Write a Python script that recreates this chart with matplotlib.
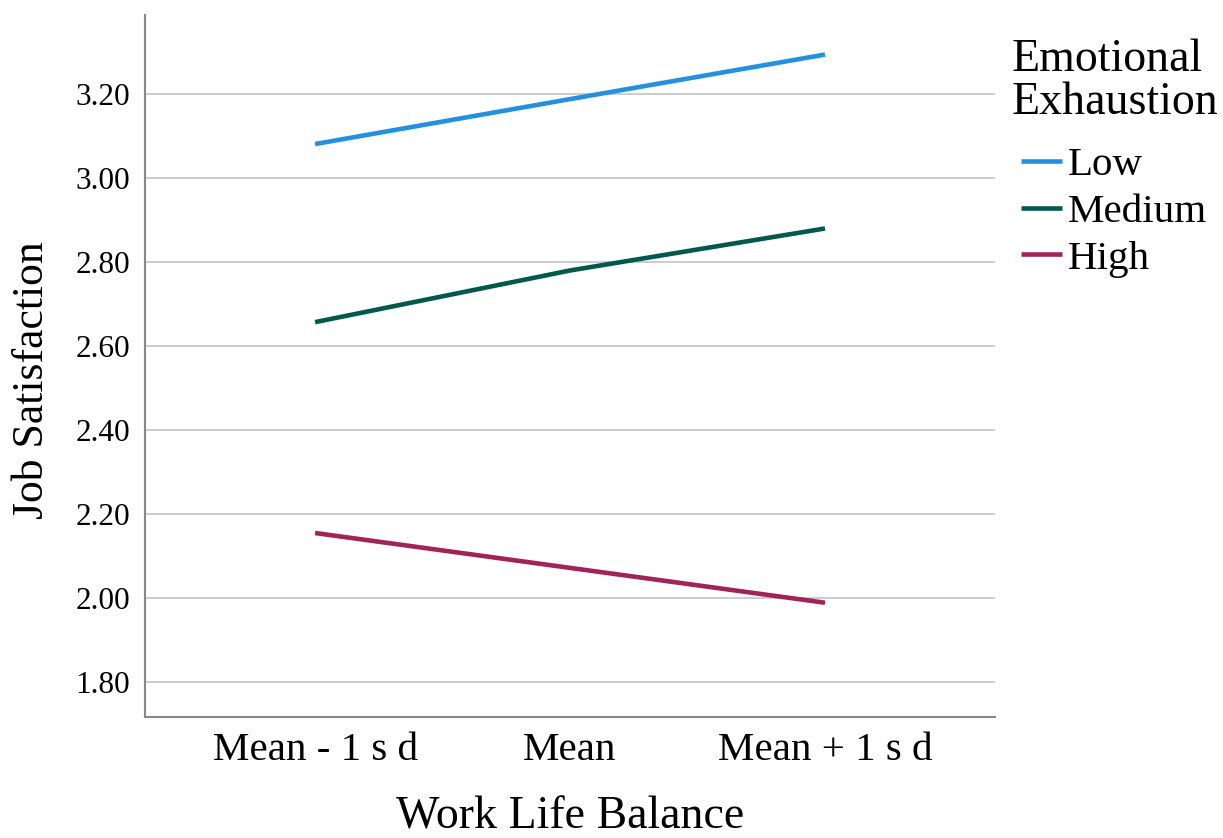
"""
Interaction plot: job satisfaction by work life balance and emotional exhaustion
"""

import matplotlib
matplotlib.use('Agg')
import matplotlib.pyplot as plt

# dados
categories = ['Mean - 1 s d', 'Mean', 'Mean + 1 s d']
low = [3.081, 3.188, 3.294]
medium = [2.657, 2.780, 2.880]
high = [2.155, 2.072, 1.989]
series_names = ['Low', 'Medium', 'High']
y_ticks = [1.80, 2.00, 2.20, 2.40, 2.60, 2.80, 3.00, 3.20]

colors = ['#2590e0', '#00584f', '#a02459']

plt.rcParams['font.family'] = ['Liberation Serif', 'DejaVu Serif']

fig = plt.figure(figsize=(12.23, 8.38), dpi=100)
ax = fig.add_axes([0.1186, 0.1444, 0.695, 0.8376])

x = range(len(categories))
for vals, name, c in zip([low, medium, high], series_names, colors):
    ax.plot(x, vals, color=c, lw=3.3, label=name, solid_capstyle='butt')

ax.set_xlim(-0.667, 2.667)
ax.set_ylim(1.717, 3.388)
ax.set_yticks(y_ticks)
ax.set_yticklabels(['%.2f' % v for v in y_ticks])
ax.set_xticks(list(x))
ax.set_xticklabels(categories)
ax.tick_params(axis='both', length=0)
ax.tick_params(axis='y', labelsize=22.5, pad=11)
ax.tick_params(axis='x', labelsize=29.5, pad=11)
ax.grid(axis='y', color='#c8c8c8', lw=1.3)
ax.set_axisbelow(True)

for s in ['top', 'right']:
    ax.spines[s].set_visible(False)
for s in ['left', 'bottom']:
    ax.spines[s].set_color('#888888')
    ax.spines[s].set_linewidth(1.5)

ax.set_xlabel('Work Life Balance', fontsize=33, labelpad=19)
ax.set_ylabel('Job Satisfaction', fontsize=31.5)
ax.yaxis.set_label_coords(-0.109, 0.48)

leg = ax.legend(title='Emotional\nExhaustion', loc='upper left',
                bbox_to_anchor=(0.986, 1.008), frameon=False, fontsize=29.5,
                title_fontsize=33, handlelength=1.0, handletextpad=0.15,
                labelspacing=0.22, borderaxespad=0.3)
leg._legend_box.align = 'left'
leg._legend_box.sep = 10
leg._legend_handle_box.pad = 6.5
leg.get_title().set_linespacing(1.02)

fig.savefig('out.png', dpi=100)
